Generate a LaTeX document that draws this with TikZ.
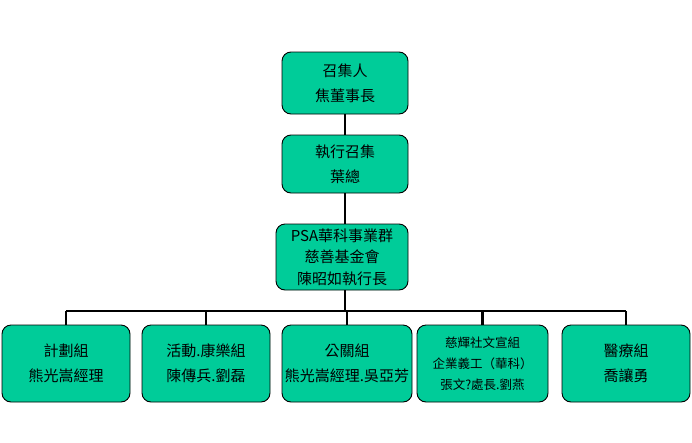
\documentclass[tikz,border=0pt]{standalone}
\usepackage{fontspec}
\setmainfont{Noto Sans CJK TC}
\definecolor{boxfill}{RGB}{0,204,153}
\tikzset{
  orgbox/.style={draw=black, line width=0.9pt, fill=boxfill, rounded corners=9pt, align=center, inner sep=0pt, font=\fontsize{15}{25}\selectfont},
  link/.style={draw=black, line width=2.2pt}
}
\begin{document}
\begin{tikzpicture}[x=1pt,y=-1pt]
\useasboundingbox (0,0) rectangle (692,442);
\node[orgbox, minimum width=126pt, minimum height=62pt] (b1) at (345,83) {召集人\\焦董事長};
\node[orgbox, minimum width=126pt, minimum height=58pt] (b2) at (345,164) {執行召集\\葉總};
\node[orgbox, minimum width=132pt, minimum height=66pt, font=\fontsize{15}{21.5}\selectfont] (b3) at (342,257) {PSA華科事業群\\慈善基金會\\陳昭如執行長};
\node[orgbox, minimum width=128pt, minimum height=77pt] (ba) at (66,363.5) {計劃組\\熊光嵩經理};
\node[orgbox, minimum width=128pt, minimum height=77pt] (bb) at (206,363.5) {活動.康樂組\\陳傳兵.劉磊};
\node[orgbox, minimum width=130pt, minimum height=77pt] (bc) at (347,363.5) {公關組\\熊光嵩經理.吳亞芳};
\node[orgbox, minimum width=131pt, minimum height=77pt, font=\fontsize{12.5}{21}\selectfont] (bd) at (482.5,363.5) {慈輝社文宣組\\企業義工（華科）\\張文?處長.劉燕};
\node[orgbox, minimum width=128pt, minimum height=77pt] (be) at (626,363.5) {醫療組\\喬讓勇};
\coordinate (busL) at (66,311);
\coordinate (busR) at (626,311);
\draw[link] (b1.south) -- (b2.north);
\draw[link] (b2.south) -- (b2.south |- b3.north);
\draw[link] (b2.south |- b3.south) -- (b2.south |- busL);
\draw[link] (busL) -- (busR);
\foreach \b in {ba,bb,bc,bd,be} {
  \draw[link] (\b.north) -- (\b.north |- busL);
}
\end{tikzpicture}
\end{document}
